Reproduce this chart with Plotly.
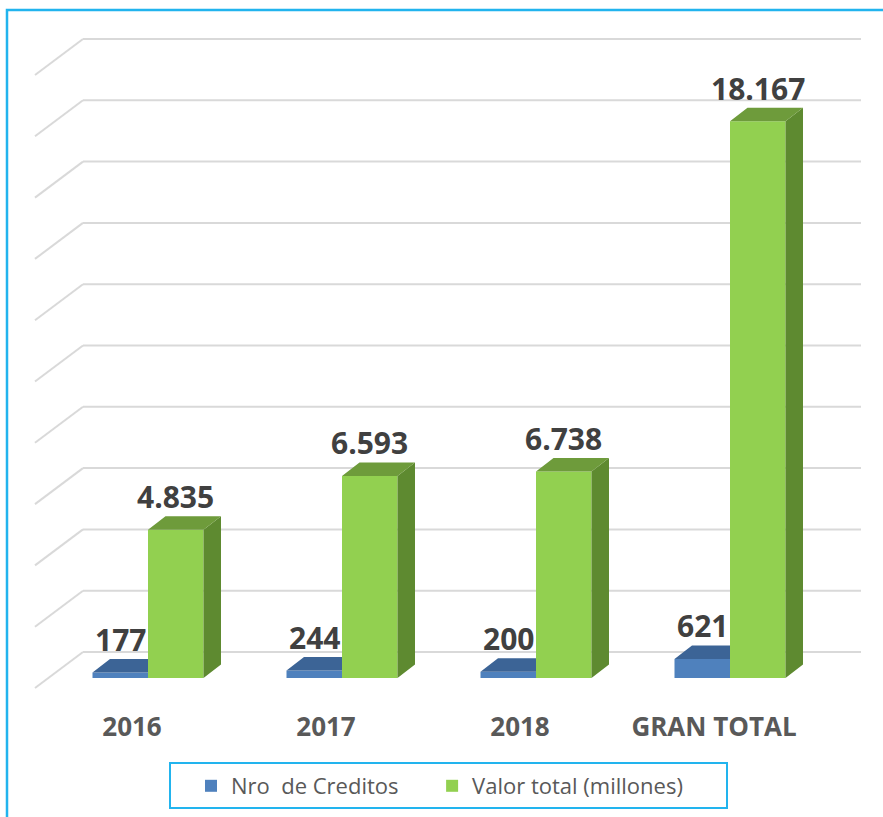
import plotly.graph_objects as go

# ---------------- data ----------------
categories = ["2016", "2017", "2018", "GRAN TOTAL"]
nro_creditos = [177, 244, 200, 621]
valor_total = [4835, 6593, 6738, 18167]
grid_values = [0, 2000, 4000, 6000, 8000, 10000, 12000, 14000, 16000, 18000, 20000]
series_names = ["Nro\u00a0 de Creditos" + "\u00a0" * 5, "Valor total (millones)"]

# ---------------- layout geometry (pixels) ----------------
W, H = 883, 817
B = 108                      # bottom margin
PLOT_H = H - B
BASE_PY = 678                # pixel row of value 0 at bar front
K = 61.3 / 2000              # pixels per value unit
C0, SP = 148, 194            # first group centre px, group spacing px
BW = 55.5 / SP               # bar width (x units)
DX = 17.5 / SP               # depth offset x
DY = 13.5 / K                # depth offset (value units)
WALL_DX, WALL_DY = (83 - C0) / SP, (BASE_PY - 652) / K
FRONT_DX, FRONT_DY = (35 - C0) / SP, (BASE_PY - 688) / K
WALL_END = (861 - C0) / SP
LABEL_SHIFT = 16 / SP

BLUE, BLUE_TOP = "#4F81BD", "#3C6496"
GREEN, GREEN_TOP, GREEN_SIDE = "#92D050", "#6E9B3B", "#5E8A30"
GRID = "#D9D9D9"
FRAME = "#22B4EE"


def paper_y(py):
    return (PLOT_H - py) / PLOT_H


def paper_x(px):
    return px / W


def fmt(v):
    return f"{v:,}".replace(",", ".")


idx = list(range(len(categories)))
blue_x = [i - BW / 2 for i in idx]
green_x = [i + BW / 2 for i in idx]

fig = go.Figure()

fig.add_trace(go.Bar(x=blue_x, y=nro_creditos, width=BW, name=series_names[0],
                     marker=dict(color=BLUE, line=dict(width=0)), hoverinfo="skip"))
fig.add_trace(go.Bar(x=green_x, y=valor_total, width=BW, name=series_names[1],
                     marker=dict(color=GREEN, line=dict(width=0)), hoverinfo="skip"))


def polys(list_of_pts):
    xs, ys = [], []
    for pts in list_of_pts:
        for (a, b) in pts + [pts[0]]:
            xs.append(a)
            ys.append(b)
        xs.append(None)
        ys.append(None)
    return xs, ys


# blue top faces (clipped where hidden by green bar)
blue_tops = []
for i, v in zip(idx, nro_creditos):
    x0, x1 = i - BW, i
    blue_tops.append([(x0, v), (x1, v), (x1, v + DY), (x0 + DX, v + DY)])
xs, ys = polys(blue_tops)
fig.add_trace(go.Scatter(x=xs, y=ys, fill="toself", fillcolor=BLUE_TOP, mode="lines",
                         line=dict(width=0, color=BLUE_TOP), showlegend=False, hoverinfo="skip"))

# green side and top faces
green_sides, green_tops = [], []
for i, v in zip(idx, valor_total):
    x0, x1 = i, i + BW
    green_sides.append([(x1, 0), (x1 + DX, DY), (x1 + DX, v + DY), (x1, v)])
    green_tops.append([(x0, v), (x1, v), (x1 + DX, v + DY), (x0 + DX, v + DY)])
xs, ys = polys(green_sides)
fig.add_trace(go.Scatter(x=xs, y=ys, fill="toself", fillcolor=GREEN_SIDE, mode="lines",
                         line=dict(width=0, color=GREEN_SIDE), showlegend=False, hoverinfo="skip"))
xs, ys = polys(green_tops)
fig.add_trace(go.Scatter(x=xs, y=ys, fill="toself", fillcolor=GREEN_TOP, mode="lines",
                         line=dict(width=0, color=GREEN_TOP), showlegend=False, hoverinfo="skip"))

# back wall gridlines + diagonal floor lines
shapes = []
for g in grid_values:
    shapes.append(dict(type="line", xref="x", yref="y", layer="below",
                       x0=WALL_DX, y0=g + WALL_DY, x1=WALL_END, y1=g + WALL_DY,
                       line=dict(color=GRID, width=2)))
    shapes.append(dict(type="line", xref="x", yref="y", layer="below",
                       x0=FRONT_DX, y0=g + FRONT_DY, x1=WALL_DX, y1=g + WALL_DY,
                       line=dict(color=GRID, width=2)))
# outer frame
shapes.append(dict(type="rect", xref="paper", yref="paper",
                   x0=paper_x(7), x1=paper_x(W + 20), y0=paper_y(H + 20), y1=paper_y(10),
                   line=dict(color=FRAME, width=2.5), fillcolor="rgba(0,0,0,0)"))
# legend frame
shapes.append(dict(type="rect", xref="paper", yref="paper",
                   x0=paper_x(170), x1=paper_x(727), y0=paper_y(808), y1=paper_y(763),
                   line=dict(color=FRAME, width=2), fillcolor="rgba(0,0,0,0)"))

annotations = []
for xs_, vals in ((blue_x, nro_creditos), (green_x, valor_total)):
    for xc, v in zip(xs_, vals):
        annotations.append(dict(x=xc, y=v + DY, xref="x", yref="y", text=f"<b>{fmt(v)}</b>",
                                showarrow=False, yanchor="bottom", xanchor="center", yshift=-3,
                                font=dict(family="Open Sans", size=30, color="#404040")))

fig.update_layout(
    width=W, height=H,
    margin=dict(l=0, r=0, t=0, b=B, pad=0),
    paper_bgcolor="white", plot_bgcolor="white",
    barmode="overlay",
    shapes=shapes,
    annotations=annotations,
    xaxis=dict(range=[-C0 / SP, (W - C0) / SP], showgrid=False, zeroline=False, showline=False,
               tickmode="array", tickvals=[i - LABEL_SHIFT for i in idx], ticktext=categories,
               ticks="", tickfont=dict(family="Open Sans", size=26, color="#595959", weight="bold"),
               fixedrange=True),
    yaxis=dict(range=[(BASE_PY - PLOT_H) / K, BASE_PY / K], visible=False, showgrid=False,
               zeroline=False, fixedrange=True),
    legend=dict(orientation="h", x=paper_x(191), xanchor="left", y=paper_y(786), yanchor="middle",
                borderwidth=0, bgcolor="rgba(0,0,0,0)",
                font=dict(family="Open Sans", size=22, color="#595959")),
    showlegend=True,
)

fig.write_html("out.html", config={"displayModeBar": False},
               post_script="document.body.style.margin='0';document.body.style.overflow='hidden';")
